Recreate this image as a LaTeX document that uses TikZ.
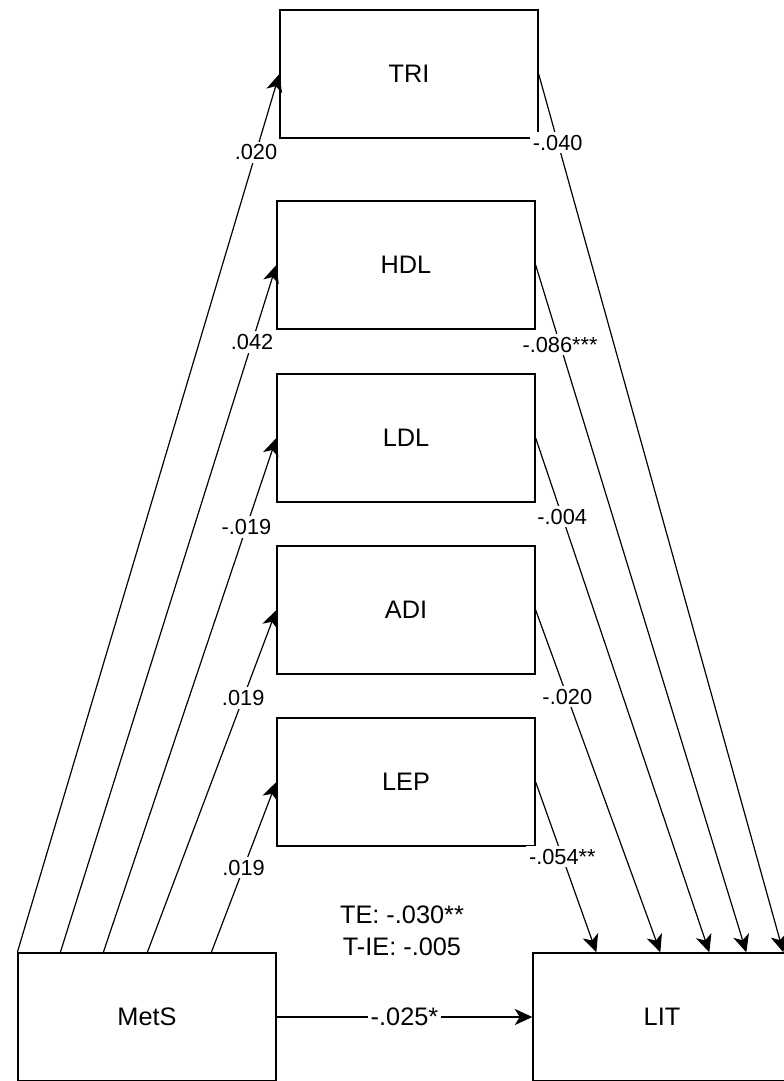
\documentclass[tikz,border=0pt]{standalone}
\usepackage{fontspec}
\setmainfont{Liberation Sans}
\usetikzlibrary{arrows.meta,positioning,calc}

\begin{document}
\begin{tikzpicture}[x=0.025cm, y=-0.025cm,
  varbox/.style={draw, line width=0.9pt, minimum width=6.45cm, minimum height=3.2cm, inner sep=0pt, font=\fontsize{18}{22}\selectfont},
  link/.style={line width=0.85pt, -{Stealth[length=12.5pt, width=11.5pt, inset=3.5pt]}},
  coef/.style={fill=white, inner sep=2pt, font=\fontsize{15.5}{18}\selectfont}]
  \useasboundingbox (0,0) rectangle (784,1081);

  % Mediators
  \node[varbox] (tri) at (409,74) {TRI};
  \node[varbox] (hdl) at (406,265) {HDL};
  \node[varbox] (ldl) at (406,438) {LDL};
  \node[varbox] (adi) at (406,610) {ADI};
  \node[varbox] (lep) at (406,782) {LEP};

  % Exposure and outcome
  \node[varbox] (mets) at (147,1017) {MetS};
  \node[varbox] (lit) at (662,1017) {LIT};

  % a paths: MetS -> mediators
  \draw[link] (mets.north west) -- node[coef, pos=0.911] {.020} (tri.west);
  \draw[link] ($(mets.north west)+(43,0)$) -- node[coef, pos=0.888] {.042} (hdl.west);
  \draw[link] ($(mets.north west)+(86,0)$) -- node[coef, pos=0.827] {-.019} (ldl.west);
  \draw[link] ($(mets.north west)+(130,0)$) -- node[coef, pos=0.743] {.019} (adi.west);
  \draw[link] ($(mets.north west)+(194,0)$) -- node[coef, pos=0.497] {.019} (lep.west);

  % b paths: mediators -> LIT
  \draw[link] (tri.east) -- node[coef, pos=0.078] {-.040} ($(lit.north west)+(251,0)$);
  \draw[link] (hdl.east) -- node[coef, pos=0.116] {-.086***} ($(lit.north west)+(214,0)$);
  \draw[link] (ldl.east) -- node[coef, pos=0.153] {-.004} ($(lit.north west)+(177,0)$);
  \draw[link] (adi.east) -- node[coef, pos=0.254] {-.020} ($(lit.north west)+(128,0)$);
  \draw[link] (lep.east) -- node[coef, pos=0.44] {-.054**} ($(lit.north west)+(64,0)$);

  % Direct path and effects
  \draw[link] (mets) -- node[fill=white, inner sep=2pt, font=\fontsize{18}{22}\selectfont] {-.025*} (lit);
  \node[align=center, font=\fontsize{18}{22.5}\selectfont] (effects) at (402,931) {TE: -.030**\\T-IE: -.005};
\end{tikzpicture}
\end{document}
